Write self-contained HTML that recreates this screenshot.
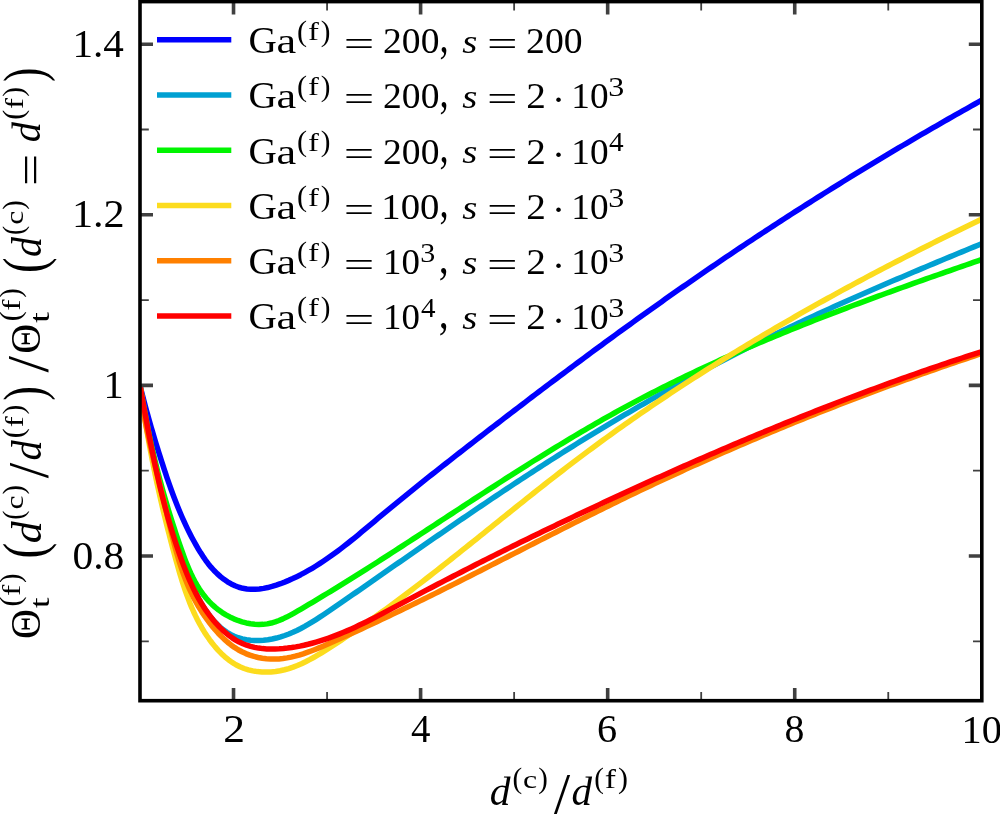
<!DOCTYPE html>
<html><head><meta charset="utf-8"><title>plot</title>
<style>html,body{margin:0;padding:0;background:#fff;overflow:hidden}svg{display:block}
text{font-family:"Liberation Serif","DejaVu Serif",serif;fill:#000}
text.i{font-style:italic}</style></head><body>
<svg width="1000" height="814" viewBox="0 0 1000 814">
<rect width="1000" height="814" fill="#fff"/>
<defs><clipPath id="ax"><rect x="140" y="1.6" width="841.8" height="699.1"/></clipPath></defs>
<g clip-path="url(#ax)" fill="none" stroke-width="5.5" stroke-linejoin="round" stroke-linecap="butt">
<path stroke="#0000ff" d="M140.01 385.4 L141.04 389.6 L142.1 393.81 L143.17 398.01 L144.27 402.22 L145.38 406.43 L146.52 410.64 L147.67 414.84 L148.84 419.05 L150.04 423.25 L151.24 427.44 L152.47 431.64 L153.71 435.82 L154.96 440.01 L156.23 444.18 L157.52 448.35 L158.82 452.51 L160.13 456.66 L161.45 460.8 L162.78 464.93 L164.13 469.05 L165.49 473.16 L166.86 477.26 L168.26 481.34 L169.68 485.41 L171.12 489.47 L172.6 493.52 L174.1 497.55 L175.65 501.58 L177.23 505.59 L178.86 509.58 L180.53 513.56 L182.25 517.53 L184.03 521.49 L185.85 525.43 L187.74 529.35 L189.69 533.27 L191.71 537.16 L193.8 541.04 L195.95 544.91 L198.19 548.76 L200.51 552.59 L202.93 556.36 L205.47 560.06 L208.16 563.66 L211 567.15 L214.01 570.49 L217.17 573.65 L220.48 576.61 L223.94 579.34 L227.51 581.79 L231.2 583.95 L235 585.77 L238.89 587.24 L242.87 588.31 L246.91 589 L251.02 589.33 L255.17 589.32 L259.36 589 L263.58 588.4 L267.81 587.54 L272.03 586.46 L276.25 585.18 L280.44 583.72 L284.6 582.11 L288.71 580.38 L292.77 578.56 L296.76 576.65 L300.7 574.67 L304.58 572.6 L308.41 570.47 L312.19 568.26 L315.92 565.99 L319.61 563.66 L323.25 561.27 L326.86 558.82 L330.43 556.33 L333.97 553.79 L337.48 551.21 L340.95 548.58 L344.41 545.92 L347.84 543.23 L351.25 540.52 L354.64 537.78 L358.01 535.01 L361.38 532.23 L364.73 529.44 L368.08 526.64 L371.42 523.84 L374.76 521.03 L378.11 518.22 L381.45 515.42 L384.8 512.63 L388.16 509.85 L391.52 507.07 L394.89 504.3 L398.26 501.54 L401.63 498.79 L405.01 496.04 L408.39 493.29 L411.78 490.56 L415.17 487.83 L418.56 485.1 L421.96 482.38 L425.36 479.67 L428.77 476.96 L432.17 474.25 L435.59 471.55 L439 468.86 L442.42 466.16 L445.84 463.48 L449.26 460.79 L452.69 458.11 L456.11 455.43 L459.54 452.76 L462.98 450.09 L466.41 447.42 L469.85 444.75 L473.28 442.09 L476.72 439.42 L480.17 436.76 L483.61 434.1 L487.05 431.44 L490.5 428.79 L493.95 426.13 L497.39 423.48 L500.85 420.83 L504.3 418.18 L507.75 415.53 L511.21 412.88 L514.66 410.24 L518.12 407.6 L521.58 404.96 L525.04 402.32 L528.51 399.68 L531.97 397.05 L535.44 394.42 L538.91 391.79 L542.38 389.16 L545.86 386.54 L549.33 383.92 L552.81 381.3 L556.29 378.68 L559.77 376.07 L563.25 373.45 L566.74 370.85 L570.23 368.24 L573.72 365.64 L577.21 363.04 L580.7 360.44 L584.2 357.84 L587.7 355.25 L591.2 352.66 L594.7 350.08 L598.21 347.5 L601.72 344.92 L605.23 342.34 L608.74 339.77 L612.25 337.2 L615.77 334.64 L619.29 332.07 L622.81 329.52 L626.34 326.96 L629.87 324.41 L633.4 321.86 L636.93 319.32 L640.47 316.78 L644.01 314.24 L647.55 311.71 L651.09 309.19 L654.64 306.66 L658.19 304.14 L661.74 301.63 L665.29 299.11 L668.85 296.61 L672.41 294.1 L675.98 291.61 L679.54 289.11 L683.11 286.62 L686.69 284.14 L690.26 281.65 L693.84 279.18 L697.42 276.71 L701.01 274.24 L704.59 271.78 L708.18 269.32 L711.78 266.86 L715.37 264.41 L718.97 261.97 L722.58 259.53 L726.18 257.09 L729.79 254.66 L733.4 252.23 L737.02 249.81 L740.63 247.39 L744.25 244.98 L747.88 242.57 L751.5 240.17 L755.13 237.77 L758.77 235.37 L762.4 232.98 L766.04 230.59 L769.68 228.21 L773.32 225.83 L776.97 223.46 L780.62 221.09 L784.27 218.73 L787.93 216.37 L791.59 214.01 L795.25 211.66 L798.91 209.32 L802.58 206.98 L806.25 204.64 L809.92 202.31 L813.6 199.98 L817.28 197.66 L820.96 195.34 L824.65 193.03 L828.33 190.72 L832.03 188.41 L835.72 186.11 L839.42 183.82 L843.12 181.53 L846.82 179.24 L850.52 176.96 L854.23 174.68 L857.94 172.41 L861.66 170.14 L865.37 167.88 L869.09 165.62 L872.81 163.37 L876.54 161.12 L880.27 158.87 L884 156.63 L887.73 154.4 L891.47 152.17 L895.21 149.94 L898.95 147.72 L902.7 145.5 L906.45 143.29 L910.2 141.08 L913.95 138.88 L917.71 136.68 L921.47 134.49 L925.23 132.3 L929 130.11 L932.77 127.93 L936.54 125.76 L940.31 123.59 L944.09 121.42 L947.87 119.26 L951.65 117.11 L955.44 114.95 L959.23 112.81 L963.02 110.67 L966.81 108.53 L970.61 106.4 L974.41 104.27 L978.21 102.14 L982.02 100.03"/>
<path stroke="#00a0d2" d="M139.99 385.4 L140.8 389.7 L141.6 394 L142.4 398.3 L143.2 402.59 L143.99 406.89 L144.78 411.19 L145.58 415.48 L146.37 419.78 L147.17 424.07 L147.97 428.36 L148.78 432.64 L149.59 436.93 L150.41 441.21 L151.24 445.48 L152.08 449.76 L152.93 454.03 L153.79 458.29 L154.67 462.55 L155.56 466.81 L156.46 471.06 L157.39 475.31 L158.33 479.55 L159.29 483.79 L160.27 488.02 L161.27 492.24 L162.3 496.46 L163.35 500.67 L164.42 504.88 L165.53 509.08 L166.65 513.27 L167.81 517.45 L169 521.63 L170.22 525.79 L171.47 529.95 L172.75 534.1 L174.07 538.24 L175.43 542.38 L176.82 546.5 L178.25 550.61 L179.72 554.72 L181.22 558.81 L182.78 562.9 L184.37 566.97 L186.01 571.03 L187.69 575.08 L189.42 579.12 L191.2 583.15 L193.02 587.17 L194.91 591.16 L196.88 595.11 L198.94 599.02 L201.09 602.86 L203.36 606.64 L205.76 610.33 L208.3 613.93 L210.99 617.42 L213.85 620.79 L216.86 624 L220.04 627.01 L223.38 629.78 L226.87 632.27 L230.51 634.45 L234.3 636.28 L238.23 637.76 L242.26 638.92 L246.4 639.77 L250.61 640.31 L254.88 640.57 L259.18 640.55 L263.51 640.28 L267.84 639.76 L272.15 639.01 L276.42 638.04 L280.64 636.87 L284.79 635.51 L288.88 633.97 L292.91 632.27 L296.88 630.43 L300.8 628.46 L304.67 626.37 L308.49 624.18 L312.28 621.9 L316.03 619.55 L319.75 617.15 L323.45 614.7 L327.12 612.23 L330.77 609.75 L334.41 607.26 L338.03 604.78 L341.65 602.3 L345.25 599.82 L348.84 597.34 L352.42 594.86 L356 592.38 L359.57 589.9 L363.13 587.42 L366.69 584.94 L370.25 582.46 L373.81 579.99 L377.36 577.51 L380.92 575.03 L384.47 572.55 L388.03 570.07 L391.59 567.58 L395.16 565.1 L398.72 562.62 L402.29 560.14 L405.85 557.66 L409.42 555.18 L412.99 552.7 L416.57 550.22 L420.14 547.74 L423.72 545.26 L427.3 542.79 L430.88 540.31 L434.46 537.84 L438.04 535.37 L441.63 532.9 L445.22 530.43 L448.81 527.96 L452.4 525.5 L456 523.03 L459.6 520.57 L463.2 518.12 L466.8 515.66 L470.41 513.21 L474.02 510.76 L477.63 508.32 L481.25 505.87 L484.86 503.44 L488.48 501 L492.11 498.57 L495.73 496.14 L499.36 493.72 L502.99 491.3 L506.63 488.88 L510.27 486.47 L513.91 484.07 L517.55 481.67 L521.2 479.27 L524.85 476.88 L528.5 474.49 L532.16 472.11 L535.82 469.74 L539.49 467.37 L543.15 465 L546.83 462.64 L550.5 460.29 L554.18 457.95 L557.86 455.61 L561.55 453.27 L565.24 450.95 L568.93 448.63 L572.63 446.32 L576.33 444.01 L580.04 441.71 L583.75 439.42 L587.46 437.14 L591.18 434.86 L594.9 432.59 L598.63 430.33 L602.36 428.08 L606.09 425.83 L609.83 423.59 L613.58 421.36 L617.32 419.13 L621.07 416.92 L624.83 414.71 L628.59 412.51 L632.35 410.31 L636.12 408.12 L639.89 405.94 L643.66 403.77 L647.44 401.61 L651.23 399.45 L655.01 397.3 L658.81 395.16 L662.6 393.03 L666.4 390.9 L670.2 388.78 L674.01 386.67 L677.82 384.57 L681.64 382.48 L685.46 380.39 L689.28 378.31 L693.11 376.24 L696.95 374.17 L700.78 372.12 L704.62 370.07 L708.47 368.03 L712.32 365.99 L716.17 363.97 L720.03 361.95 L723.89 359.94 L727.75 357.94 L731.62 355.95 L735.5 353.96 L739.37 351.98 L743.26 350.01 L747.14 348.05 L751.03 346.1 L754.93 344.15 L758.82 342.22 L762.73 340.29 L766.63 338.36 L770.54 336.45 L774.46 334.54 L778.38 332.65 L782.3 330.76 L786.23 328.88 L790.16 327 L794.1 325.14 L798.03 323.28 L801.98 321.43 L805.92 319.59 L809.87 317.75 L813.83 315.92 L817.79 314.1 L821.75 312.28 L825.71 310.47 L829.68 308.67 L833.65 306.87 L837.62 305.08 L841.6 303.3 L845.58 301.52 L849.56 299.75 L853.54 297.98 L857.53 296.22 L861.52 294.47 L865.51 292.71 L869.51 290.97 L873.5 289.23 L877.5 287.49 L881.5 285.76 L885.51 284.03 L889.51 282.31 L893.52 280.59 L897.53 278.87 L901.54 277.16 L905.55 275.46 L909.57 273.75 L913.59 272.05 L917.6 270.35 L921.62 268.66 L925.64 266.97 L929.66 265.28 L933.68 263.59 L937.71 261.91 L941.73 260.23 L945.76 258.55 L949.78 256.87 L953.81 255.2 L957.84 253.53 L961.87 251.86 L965.89 250.19 L969.92 248.52 L973.95 246.85 L977.98 245.19 L982.01 243.52"/>
<path stroke="#00f500" d="M140 385.4 L140.68 389.64 L141.39 393.87 L142.1 398.08 L142.84 402.29 L143.59 406.49 L144.36 410.68 L145.14 414.86 L145.94 419.03 L146.76 423.19 L147.6 427.34 L148.46 431.49 L149.33 435.62 L150.22 439.75 L151.13 443.88 L152.05 447.99 L153 452.1 L153.96 456.21 L154.94 460.31 L155.94 464.4 L156.96 468.49 L158 472.58 L159.05 476.66 L160.13 480.73 L161.23 484.81 L162.34 488.88 L163.47 492.94 L164.63 497.01 L165.8 501.07 L167 505.13 L168.21 509.19 L169.45 513.24 L170.7 517.3 L171.98 521.35 L173.27 525.41 L174.59 529.46 L175.93 533.52 L177.29 537.57 L178.67 541.63 L180.07 545.69 L181.49 549.75 L182.94 553.8 L184.44 557.84 L185.98 561.86 L187.58 565.84 L189.26 569.77 L191.01 573.66 L192.86 577.48 L194.81 581.23 L196.87 584.89 L199.06 588.46 L201.38 591.93 L203.84 595.29 L206.46 598.53 L209.24 601.64 L212.2 604.6 L215.35 607.42 L218.69 610.08 L222.23 612.56 L225.94 614.86 L229.8 616.95 L233.79 618.83 L237.88 620.46 L242.05 621.85 L246.26 622.96 L250.5 623.78 L254.75 624.3 L258.96 624.51 L263.13 624.37 L267.23 623.88 L271.25 623.05 L275.19 621.91 L279.06 620.51 L282.88 618.88 L286.65 617.07 L290.38 615.12 L294.09 613.06 L297.78 610.93 L301.46 608.79 L305.13 606.63 L308.79 604.46 L312.45 602.29 L316.11 600.11 L319.76 597.92 L323.4 595.72 L327.04 593.51 L330.68 591.3 L334.31 589.08 L337.93 586.85 L341.55 584.62 L345.17 582.38 L348.78 580.13 L352.39 577.88 L355.99 575.62 L359.59 573.36 L363.19 571.09 L366.78 568.82 L370.37 566.54 L373.95 564.26 L377.54 561.97 L381.12 559.68 L384.69 557.38 L388.27 555.08 L391.84 552.78 L395.41 550.47 L398.98 548.17 L402.54 545.85 L406.11 543.54 L409.67 541.22 L413.23 538.91 L416.79 536.59 L420.34 534.27 L423.9 531.94 L427.45 529.62 L431.01 527.29 L434.56 524.97 L438.11 522.64 L441.66 520.32 L445.22 517.99 L448.77 515.67 L452.32 513.34 L455.87 511.02 L459.42 508.69 L462.97 506.37 L466.52 504.05 L470.08 501.73 L473.63 499.41 L477.19 497.1 L480.74 494.79 L484.3 492.48 L487.86 490.17 L491.42 487.87 L494.98 485.57 L498.54 483.27 L502.11 480.97 L505.67 478.69 L509.24 476.4 L512.82 474.12 L516.39 471.84 L519.97 469.57 L523.55 467.31 L527.13 465.05 L530.72 462.79 L534.31 460.54 L537.9 458.3 L541.49 456.06 L545.09 453.83 L548.7 451.61 L552.3 449.39 L555.92 447.18 L559.53 444.98 L563.15 442.79 L566.78 440.6 L570.41 438.42 L574.04 436.25 L577.68 434.09 L581.32 431.94 L584.97 429.8 L588.63 427.66 L592.29 425.54 L595.95 423.42 L599.63 421.32 L603.3 419.23 L606.99 417.14 L610.68 415.07 L614.38 413.01 L618.08 410.96 L621.79 408.92 L625.5 406.89 L629.23 404.87 L632.96 402.87 L636.7 400.88 L640.44 398.9 L644.19 396.93 L647.95 394.97 L651.72 393.03 L655.49 391.1 L659.27 389.17 L663.05 387.26 L666.84 385.36 L670.64 383.47 L674.44 381.6 L678.25 379.73 L682.06 377.87 L685.88 376.03 L689.71 374.19 L693.54 372.37 L697.38 370.55 L701.22 368.75 L705.07 366.95 L708.92 365.17 L712.78 363.39 L716.65 361.63 L720.51 359.87 L724.39 358.13 L728.27 356.39 L732.15 354.66 L736.04 352.94 L739.93 351.23 L743.82 349.53 L747.72 347.84 L751.63 346.16 L755.54 344.48 L759.45 342.81 L763.37 341.16 L767.29 339.51 L771.21 337.86 L775.14 336.23 L779.07 334.6 L783 332.99 L786.94 331.38 L790.88 329.77 L794.83 328.18 L798.77 326.59 L802.72 325.01 L806.68 323.43 L810.63 321.87 L814.59 320.31 L818.55 318.75 L822.51 317.2 L826.48 315.66 L830.45 314.13 L834.42 312.6 L838.39 311.08 L842.36 309.57 L846.34 308.06 L850.32 306.55 L854.3 305.05 L858.28 303.56 L862.26 302.08 L866.25 300.59 L870.23 299.12 L874.22 297.65 L878.2 296.18 L882.19 294.72 L886.18 293.26 L890.17 291.81 L894.16 290.36 L898.16 288.92 L902.15 287.48 L906.14 286.05 L910.13 284.62 L914.13 283.2 L918.12 281.77 L922.12 280.36 L926.11 278.94 L930.1 277.53 L934.1 276.12 L938.09 274.72 L942.08 273.32 L946.07 271.92 L950.06 270.53 L954.05 269.14 L958.04 267.75 L962.03 266.36 L966.02 264.98 L970.01 263.6 L973.99 262.22 L977.98 260.84 L981.96 259.47"/>
<path stroke="#fcdc1e" d="M140 385.4 L140.61 389.96 L141.24 394.51 L141.89 399.06 L142.55 403.6 L143.23 408.14 L143.93 412.67 L144.65 417.2 L145.38 421.72 L146.13 426.24 L146.89 430.75 L147.67 435.26 L148.47 439.76 L149.28 444.26 L150.11 448.75 L150.96 453.24 L151.82 457.73 L152.7 462.21 L153.6 466.68 L154.51 471.16 L155.44 475.62 L156.38 480.09 L157.34 484.55 L158.31 489.01 L159.3 493.46 L160.3 497.91 L161.33 502.36 L162.36 506.81 L163.41 511.25 L164.48 515.68 L165.56 520.12 L166.66 524.55 L167.77 528.98 L168.9 533.41 L170.04 537.83 L171.19 542.26 L172.36 546.68 L173.55 551.09 L174.75 555.51 L175.97 559.92 L177.2 564.33 L178.45 568.74 L179.72 573.14 L181.04 577.52 L182.39 581.89 L183.79 586.24 L185.25 590.57 L186.77 594.88 L188.36 599.15 L190.02 603.39 L191.76 607.6 L193.59 611.76 L195.52 615.88 L197.55 619.96 L199.69 623.99 L201.94 627.96 L204.32 631.88 L206.83 635.73 L209.47 639.53 L212.25 643.25 L215.18 646.87 L218.26 650.36 L221.49 653.69 L224.86 656.83 L228.4 659.74 L232.09 662.39 L235.93 664.76 L239.94 666.8 L244.11 668.5 L248.41 669.86 L252.82 670.89 L257.32 671.6 L261.87 672 L266.45 672.1 L271.03 671.92 L275.58 671.46 L280.08 670.74 L284.5 669.76 L288.85 668.55 L293.12 667.13 L297.33 665.51 L301.48 663.71 L305.58 661.76 L309.62 659.68 L313.63 657.47 L317.6 655.17 L321.53 652.79 L325.44 650.36 L329.33 647.88 L333.21 645.38 L337.07 642.87 L340.92 640.34 L344.75 637.8 L348.58 635.24 L352.38 632.66 L356.18 630.07 L359.97 627.46 L363.74 624.84 L367.5 622.21 L371.25 619.57 L374.99 616.91 L378.72 614.23 L382.44 611.55 L386.15 608.85 L389.85 606.15 L393.54 603.43 L397.23 600.7 L400.9 597.96 L404.57 595.21 L408.22 592.45 L411.87 589.69 L415.52 586.91 L419.15 584.13 L422.78 581.34 L426.41 578.54 L430.02 575.73 L433.64 572.92 L437.24 570.1 L440.84 567.27 L444.44 564.44 L448.03 561.61 L451.62 558.76 L455.21 555.92 L458.79 553.07 L462.37 550.22 L465.94 547.36 L469.51 544.5 L473.08 541.64 L476.65 538.78 L480.22 535.91 L483.78 533.05 L487.35 530.18 L490.91 527.32 L494.48 524.45 L498.04 521.58 L501.61 518.71 L505.17 515.85 L508.74 512.99 L512.3 510.12 L515.87 507.26 L519.44 504.41 L523.02 501.55 L526.59 498.7 L530.17 495.86 L533.75 493.01 L537.33 490.18 L540.92 487.34 L544.52 484.52 L548.11 481.69 L551.72 478.88 L555.32 476.07 L558.93 473.27 L562.55 470.47 L566.18 467.69 L569.81 464.91 L573.44 462.14 L577.09 459.37 L580.74 456.62 L584.4 453.88 L588.06 451.15 L591.74 448.42 L595.42 445.71 L599.1 443 L602.8 440.31 L606.5 437.62 L610.21 434.94 L613.93 432.27 L617.65 429.61 L621.38 426.96 L625.11 424.32 L628.86 421.69 L632.61 419.07 L636.36 416.45 L640.13 413.85 L643.9 411.25 L647.67 408.66 L651.45 406.08 L655.24 403.51 L659.04 400.95 L662.84 398.4 L666.65 395.85 L670.46 393.32 L674.28 390.79 L678.1 388.27 L681.94 385.76 L685.77 383.26 L689.62 380.77 L693.46 378.28 L697.32 375.81 L701.18 373.34 L705.04 370.88 L708.92 368.43 L712.79 365.98 L716.67 363.55 L720.56 361.12 L724.45 358.7 L728.35 356.29 L732.25 353.89 L736.16 351.49 L740.08 349.11 L743.99 346.73 L747.92 344.35 L751.85 341.99 L755.78 339.64 L759.72 337.29 L763.66 334.95 L767.61 332.61 L771.56 330.29 L775.51 327.97 L779.47 325.66 L783.44 323.36 L787.41 321.06 L791.38 318.78 L795.36 316.5 L799.34 314.22 L803.33 311.96 L807.32 309.7 L811.31 307.45 L815.31 305.21 L819.32 302.97 L823.32 300.74 L827.33 298.52 L831.35 296.3 L835.36 294.1 L839.38 291.9 L843.41 289.7 L847.44 287.51 L851.47 285.33 L855.51 283.16 L859.54 280.99 L863.59 278.83 L867.63 276.68 L871.68 274.53 L875.73 272.39 L879.78 270.26 L883.84 268.13 L887.9 266.01 L891.97 263.9 L896.03 261.79 L900.1 259.69 L904.17 257.6 L908.25 255.51 L912.32 253.43 L916.4 251.35 L920.48 249.29 L924.57 247.22 L928.65 245.17 L932.74 243.12 L936.83 241.07 L940.93 239.03 L945.02 237 L949.12 234.97 L953.22 232.95 L957.32 230.94 L961.43 228.93 L965.53 226.93 L969.64 224.93 L973.75 222.94 L977.86 220.95 L981.97 218.97"/>
<path stroke="#ff8000" d="M140 385.4 L140.44 389.67 L140.94 393.92 L141.48 398.16 L142.06 402.38 L142.69 406.6 L143.37 410.79 L144.08 414.98 L144.82 419.16 L145.6 423.33 L146.42 427.48 L147.26 431.63 L148.13 435.78 L149.03 439.91 L149.95 444.04 L150.89 448.17 L151.85 452.29 L152.83 456.4 L153.82 460.52 L154.82 464.63 L155.84 468.74 L156.86 472.85 L157.88 476.96 L158.91 481.07 L159.94 485.18 L160.97 489.3 L161.99 493.42 L163.01 497.54 L164.02 501.67 L165.02 505.81 L166 509.95 L166.98 514.1 L167.96 518.25 L168.94 522.4 L169.92 526.54 L170.91 530.69 L171.92 534.83 L172.95 538.95 L174.01 543.07 L175.09 547.18 L176.21 551.27 L177.37 555.34 L178.57 559.4 L179.82 563.43 L181.13 567.44 L182.49 571.43 L183.92 575.38 L185.41 579.31 L186.98 583.2 L188.62 587.06 L190.35 590.88 L192.16 594.67 L194.05 598.41 L196.04 602.12 L198.11 605.78 L200.28 609.39 L202.54 612.96 L204.91 616.48 L207.37 619.95 L209.93 623.36 L212.6 626.73 L215.38 630.03 L218.27 633.26 L221.28 636.38 L224.4 639.39 L227.64 642.25 L231.02 644.94 L234.52 647.44 L238.16 649.72 L241.94 651.78 L245.85 653.58 L249.86 655.13 L253.96 656.43 L258.11 657.48 L262.28 658.27 L266.47 658.8 L270.63 659.08 L274.77 659.11 L278.89 658.92 L282.98 658.5 L287.05 657.9 L291.1 657.1 L295.13 656.15 L299.15 655.04 L303.15 653.8 L307.13 652.45 L311.1 650.99 L315.06 649.45 L319 647.84 L322.94 646.17 L326.87 644.47 L330.79 642.75 L334.71 641.01 L338.62 639.27 L342.53 637.52 L346.43 635.77 L350.32 634 L354.21 632.23 L358.1 630.45 L361.97 628.67 L365.85 626.87 L369.72 625.07 L373.58 623.27 L377.44 621.45 L381.3 619.63 L385.15 617.81 L389 615.98 L392.84 614.14 L396.68 612.3 L400.52 610.45 L404.35 608.59 L408.18 606.73 L412 604.87 L415.82 603 L419.64 601.13 L423.45 599.25 L427.27 597.37 L431.07 595.49 L434.88 593.6 L438.68 591.7 L442.48 589.81 L446.28 587.91 L450.08 586.01 L453.87 584.1 L457.66 582.19 L461.45 580.28 L465.24 578.37 L469.03 576.45 L472.81 574.54 L476.59 572.62 L480.38 570.7 L484.16 568.77 L487.93 566.85 L491.71 564.92 L495.49 563 L499.27 561.07 L503.04 559.15 L506.82 557.22 L510.59 555.29 L514.36 553.36 L518.14 551.44 L521.91 549.51 L525.68 547.58 L529.46 545.66 L533.23 543.73 L537.01 541.81 L540.78 539.88 L544.56 537.96 L548.33 536.04 L552.11 534.12 L555.89 532.21 L559.66 530.29 L563.44 528.38 L567.22 526.47 L571.01 524.56 L574.79 522.66 L578.58 520.76 L582.36 518.86 L586.15 516.96 L589.94 515.07 L593.74 513.19 L597.53 511.3 L601.33 509.42 L605.13 507.55 L608.93 505.68 L612.74 503.81 L616.54 501.95 L620.35 500.09 L624.17 498.24 L627.98 496.39 L631.8 494.55 L635.63 492.72 L639.45 490.89 L643.28 489.07 L647.12 487.25 L650.95 485.43 L654.79 483.63 L658.63 481.83 L662.48 480.03 L666.33 478.24 L670.18 476.45 L674.03 474.67 L677.89 472.9 L681.75 471.13 L685.62 469.37 L689.48 467.61 L693.35 465.86 L697.22 464.12 L701.1 462.38 L704.98 460.64 L708.86 458.91 L712.74 457.19 L716.63 455.47 L720.52 453.76 L724.41 452.06 L728.3 450.36 L732.2 448.66 L736.1 446.97 L740 445.29 L743.9 443.61 L747.81 441.94 L751.72 440.27 L755.63 438.61 L759.55 436.96 L763.47 435.31 L767.38 433.66 L771.31 432.02 L775.23 430.39 L779.16 428.77 L783.09 427.14 L787.02 425.53 L790.95 423.92 L794.89 422.31 L798.83 420.72 L802.77 419.12 L806.71 417.54 L810.65 415.96 L814.6 414.38 L818.55 412.81 L822.5 411.25 L826.45 409.69 L830.41 408.14 L834.36 406.59 L838.32 405.05 L842.28 403.51 L846.25 401.98 L850.21 400.46 L854.18 398.94 L858.15 397.43 L862.12 395.92 L866.09 394.42 L870.06 392.93 L874.04 391.44 L878.02 389.95 L882 388.47 L885.98 387 L889.96 385.54 L893.94 384.08 L897.93 382.62 L901.92 381.17 L905.91 379.73 L909.9 378.29 L913.89 376.86 L917.88 375.43 L921.88 374.01 L925.87 372.6 L929.87 371.19 L933.87 369.79 L937.87 368.39 L941.87 367 L945.87 365.62 L949.88 364.24 L953.88 362.86 L957.89 361.49 L961.9 360.13 L965.91 358.78 L969.92 357.43 L973.93 356.08 L977.94 354.74 L981.96 353.41"/>
<path stroke="#ff0000" d="M140 385.39 L140.74 389.56 L141.49 393.72 L142.24 397.88 L142.98 402.03 L143.73 406.18 L144.49 410.33 L145.24 414.47 L146 418.61 L146.77 422.75 L147.54 426.88 L148.32 431.01 L149.1 435.13 L149.9 439.25 L150.7 443.37 L151.51 447.48 L152.34 451.59 L153.18 455.69 L154.03 459.79 L154.89 463.88 L155.77 467.97 L156.66 472.05 L157.57 476.13 L158.49 480.21 L159.44 484.28 L160.4 488.35 L161.38 492.41 L162.38 496.47 L163.41 500.52 L164.45 504.57 L165.52 508.61 L166.61 512.64 L167.72 516.68 L168.86 520.7 L170.03 524.72 L171.22 528.74 L172.44 532.75 L173.69 536.76 L174.97 540.76 L176.28 544.75 L177.62 548.74 L178.99 552.73 L180.39 556.7 L181.83 560.68 L183.3 564.64 L184.82 568.6 L186.38 572.54 L187.99 576.46 L189.66 580.36 L191.4 584.23 L193.2 588.06 L195.08 591.86 L197.05 595.62 L199.1 599.34 L201.24 603 L203.48 606.62 L205.83 610.17 L208.29 613.66 L210.86 617.09 L213.56 620.44 L216.37 623.7 L219.3 626.85 L222.35 629.85 L225.52 632.7 L228.79 635.37 L232.17 637.83 L235.66 640.06 L239.26 642.05 L242.95 643.76 L246.74 645.21 L250.62 646.41 L254.56 647.36 L258.57 648.09 L262.64 648.61 L266.74 648.93 L270.88 649.07 L275.04 649.04 L279.21 648.86 L283.38 648.53 L287.54 648.08 L291.69 647.52 L295.81 646.85 L299.9 646.09 L303.97 645.23 L308.02 644.28 L312.05 643.24 L316.06 642.12 L320.04 640.92 L324.01 639.65 L327.96 638.3 L331.89 636.88 L335.81 635.4 L339.71 633.86 L343.59 632.26 L347.46 630.6 L351.31 628.9 L355.16 627.15 L358.99 625.35 L362.81 623.52 L366.62 621.66 L370.42 619.76 L374.21 617.83 L377.99 615.88 L381.77 613.91 L385.54 611.93 L389.31 609.93 L393.07 607.92 L396.83 605.91 L400.58 603.89 L404.34 601.88 L408.09 599.88 L411.84 597.88 L415.59 595.88 L419.34 593.9 L423.08 591.92 L426.83 589.94 L430.58 587.97 L434.32 586.01 L438.07 584.05 L441.82 582.1 L445.56 580.16 L449.3 578.22 L453.05 576.28 L456.79 574.36 L460.54 572.43 L464.28 570.52 L468.03 568.6 L471.77 566.7 L475.52 564.8 L479.26 562.9 L483.01 561.01 L486.75 559.12 L490.5 557.24 L494.25 555.36 L498 553.49 L501.75 551.62 L505.5 549.76 L509.25 547.9 L513 546.04 L516.75 544.19 L520.51 542.34 L524.26 540.5 L528.02 538.66 L531.78 536.83 L535.54 535 L539.3 533.17 L543.06 531.35 L546.83 529.53 L550.59 527.71 L554.36 525.9 L558.13 524.09 L561.9 522.28 L565.68 520.48 L569.46 518.68 L573.23 516.88 L577.02 515.08 L580.8 513.29 L584.59 511.5 L588.37 509.72 L592.17 507.94 L595.96 506.16 L599.75 504.38 L603.55 502.6 L607.35 500.83 L611.16 499.07 L614.96 497.3 L618.77 495.54 L622.58 493.78 L626.39 492.03 L630.21 490.28 L634.02 488.53 L637.84 486.78 L641.67 485.04 L645.49 483.3 L649.32 481.57 L653.15 479.84 L656.98 478.11 L660.81 476.39 L664.65 474.67 L668.48 472.95 L672.32 471.24 L676.17 469.53 L680.01 467.83 L683.86 466.13 L687.71 464.43 L691.56 462.74 L695.41 461.05 L699.27 459.36 L703.12 457.68 L706.98 456.01 L710.85 454.33 L714.71 452.67 L718.58 451 L722.44 449.34 L726.31 447.69 L730.19 446.04 L734.06 444.39 L737.94 442.75 L741.82 441.11 L745.7 439.48 L749.58 437.85 L753.47 436.23 L757.35 434.61 L761.24 433 L765.13 431.39 L769.03 429.79 L772.92 428.19 L776.82 426.59 L780.72 425 L784.62 423.42 L788.52 421.84 L792.43 420.27 L796.33 418.7 L800.24 417.13 L804.15 415.58 L808.07 414.02 L811.98 412.47 L815.9 410.93 L819.81 409.4 L823.73 407.86 L827.66 406.34 L831.58 404.82 L835.51 403.3 L839.43 401.79 L843.36 400.29 L847.29 398.79 L851.23 397.3 L855.16 395.81 L859.1 394.33 L863.04 392.86 L866.98 391.39 L870.92 389.92 L874.86 388.47 L878.81 387.02 L882.76 385.57 L886.7 384.13 L890.65 382.7 L894.61 381.27 L898.56 379.85 L902.52 378.44 L906.47 377.03 L910.43 375.63 L914.39 374.24 L918.36 372.85 L922.32 371.47 L926.29 370.09 L930.25 368.72 L934.22 367.36 L938.19 366 L942.16 364.66 L946.14 363.31 L950.11 361.98 L954.09 360.65 L958.07 359.33 L962.05 358.01 L966.03 356.71 L970.01 355.41 L974 354.11 L977.98 352.83 L981.97 351.55"/>
</g>
<path stroke="#404040" stroke-width="3.6" fill="none" d="M233.53 700.7V687.9M233.53 1.6V14.6M420.6 700.7V687.9M420.6 1.6V14.6M607.67 700.7V687.9M607.67 1.6V14.6M794.73 700.7V687.9M794.73 1.6V14.6M140 44.2H153M981.8 44.2H968.8M140 214.8H153M981.8 214.8H968.8M140 385.4H153M981.8 385.4H968.8M140 556H153M981.8 556H968.8"/>
<path stroke="#404040" stroke-width="1.8" fill="none" d="M327.07 700.7V691.9M327.07 1.6V10.4M514.13 700.7V691.9M514.13 1.6V10.4M701.2 700.7V691.9M701.2 1.6V10.4M888.27 700.7V691.9M888.27 1.6V10.4M140 129.5H148.8M981.8 129.5H973M140 300.1H148.8M981.8 300.1H973M140 470.7H148.8M981.8 470.7H973M140 641.3H148.8M981.8 641.3H973"/>
<rect x="140" y="1.6" width="841.8" height="699.1" fill="none" stroke="#000" stroke-width="3.6"/>
<g>
<text x="72.4" y="56.6" font-size="40" textLength="51.42" lengthAdjust="spacingAndGlyphs">1.4</text>
<text x="71.9" y="227.4" font-size="39.85" textLength="52.82" lengthAdjust="spacingAndGlyphs">1.2</text>
<text x="103.48" y="398.2" font-size="40" textLength="20.14" lengthAdjust="spacingAndGlyphs">1</text>
<text x="72.44" y="569" font-size="40.29" textLength="51.91" lengthAdjust="spacingAndGlyphs">0.8</text>
<text x="223.15" y="742.4" font-size="39.09" textLength="21.74" lengthAdjust="spacingAndGlyphs">2</text>
<text x="410.92" y="742.2" font-size="40.46" textLength="19.46" lengthAdjust="spacingAndGlyphs">4</text>
<text x="597.09" y="742.4" font-size="40" textLength="20.12" lengthAdjust="spacingAndGlyphs">6</text>
<text x="784.61" y="742.4" font-size="39.7" textLength="19.88" lengthAdjust="spacingAndGlyphs">8</text>
<text x="961.47" y="742.6" font-size="40.3" textLength="40.34" lengthAdjust="spacingAndGlyphs">10</text>
</g>
<g>
<path stroke="#0000ff" stroke-width="5.6" d="M157 39.75H231.3"/>
<text x="248.43" y="53.12" font-size="37.92" textLength="28.33" lengthAdjust="spacingAndGlyphs">G</text>
<text x="276.45" y="53.15" font-size="34.79" textLength="19.67" lengthAdjust="spacingAndGlyphs">a</text>
<text x="297.01" y="40.62" font-size="29.53" textLength="10.09" lengthAdjust="spacingAndGlyphs">(</text>
<text x="308.02" y="40.1" font-size="26.1" textLength="10.9" lengthAdjust="spacingAndGlyphs">f</text>
<text x="320.85" y="40.62" font-size="29.53" textLength="9.7" lengthAdjust="spacingAndGlyphs">)</text>
<text x="343.79" y="55.74" font-size="36.8" textLength="30.56" lengthAdjust="spacingAndGlyphs">=</text>
<text x="383.1" y="53.15" font-size="35.26" textLength="56.3" lengthAdjust="spacingAndGlyphs">200</text>
<text x="439.62" y="51.6" font-size="47.77" textLength="9.17" lengthAdjust="spacingAndGlyphs">,</text>
<text class="i" x="462.21" y="52.96" font-size="33.54" textLength="15.12" lengthAdjust="spacingAndGlyphs">s</text>
<text x="487.09" y="55.74" font-size="36.8" textLength="30.56" lengthAdjust="spacingAndGlyphs">=</text>
<text x="526.1" y="53.15" font-size="35.26" textLength="56.51" lengthAdjust="spacingAndGlyphs">200</text>
<path stroke="#00a0d2" stroke-width="5.6" d="M157 95.01H231.3"/>
<text x="248.43" y="108.38" font-size="37.92" textLength="28.33" lengthAdjust="spacingAndGlyphs">G</text>
<text x="276.45" y="108.41" font-size="34.79" textLength="19.67" lengthAdjust="spacingAndGlyphs">a</text>
<text x="297.01" y="95.88" font-size="29.53" textLength="10.09" lengthAdjust="spacingAndGlyphs">(</text>
<text x="308.02" y="95.36" font-size="26.1" textLength="10.9" lengthAdjust="spacingAndGlyphs">f</text>
<text x="320.85" y="95.88" font-size="29.53" textLength="9.7" lengthAdjust="spacingAndGlyphs">)</text>
<text x="343.79" y="111" font-size="36.8" textLength="30.56" lengthAdjust="spacingAndGlyphs">=</text>
<text x="383.1" y="108.41" font-size="35.26" textLength="56.3" lengthAdjust="spacingAndGlyphs">200</text>
<text x="439.62" y="106.86" font-size="47.77" textLength="9.17" lengthAdjust="spacingAndGlyphs">,</text>
<text class="i" x="462.21" y="108.22" font-size="33.54" textLength="15.12" lengthAdjust="spacingAndGlyphs">s</text>
<text x="487.09" y="111" font-size="36.8" textLength="30.56" lengthAdjust="spacingAndGlyphs">=</text>
<text x="526.23" y="108.26" font-size="35.77" textLength="19.63" lengthAdjust="spacingAndGlyphs">2</text>
<text x="552.09" y="111.86" font-size="37.45" textLength="13.04" lengthAdjust="spacingAndGlyphs">·</text>
<text x="571.34" y="108.4" font-size="35.85" textLength="37.26" lengthAdjust="spacingAndGlyphs">10</text>
<text x="608.18" y="96.39" font-size="26.91" textLength="16" lengthAdjust="spacingAndGlyphs">3</text>
<path stroke="#00f500" stroke-width="5.6" d="M157 150.27H231.3"/>
<text x="248.43" y="163.64" font-size="37.92" textLength="28.33" lengthAdjust="spacingAndGlyphs">G</text>
<text x="276.45" y="163.67" font-size="34.79" textLength="19.67" lengthAdjust="spacingAndGlyphs">a</text>
<text x="297.01" y="151.14" font-size="29.53" textLength="10.09" lengthAdjust="spacingAndGlyphs">(</text>
<text x="308.02" y="150.62" font-size="26.1" textLength="10.9" lengthAdjust="spacingAndGlyphs">f</text>
<text x="320.85" y="151.14" font-size="29.53" textLength="9.7" lengthAdjust="spacingAndGlyphs">)</text>
<text x="343.79" y="166.26" font-size="36.8" textLength="30.56" lengthAdjust="spacingAndGlyphs">=</text>
<text x="383.1" y="163.67" font-size="35.26" textLength="56.3" lengthAdjust="spacingAndGlyphs">200</text>
<text x="439.62" y="162.12" font-size="47.77" textLength="9.17" lengthAdjust="spacingAndGlyphs">,</text>
<text class="i" x="462.21" y="163.48" font-size="33.54" textLength="15.12" lengthAdjust="spacingAndGlyphs">s</text>
<text x="487.09" y="166.26" font-size="36.8" textLength="30.56" lengthAdjust="spacingAndGlyphs">=</text>
<text x="526.23" y="163.52" font-size="35.77" textLength="19.63" lengthAdjust="spacingAndGlyphs">2</text>
<text x="552.09" y="167.12" font-size="37.45" textLength="13.04" lengthAdjust="spacingAndGlyphs">·</text>
<text x="571.34" y="163.66" font-size="35.85" textLength="37.26" lengthAdjust="spacingAndGlyphs">10</text>
<text x="609.02" y="151.02" font-size="27.38" textLength="14.62" lengthAdjust="spacingAndGlyphs">4</text>
<path stroke="#fcdc1e" stroke-width="5.6" d="M157 205.53H231.3"/>
<text x="248.43" y="218.9" font-size="37.92" textLength="28.33" lengthAdjust="spacingAndGlyphs">G</text>
<text x="276.45" y="218.93" font-size="34.79" textLength="19.67" lengthAdjust="spacingAndGlyphs">a</text>
<text x="297.01" y="206.4" font-size="29.53" textLength="10.09" lengthAdjust="spacingAndGlyphs">(</text>
<text x="308.02" y="205.88" font-size="26.1" textLength="10.9" lengthAdjust="spacingAndGlyphs">f</text>
<text x="320.85" y="206.4" font-size="29.53" textLength="9.7" lengthAdjust="spacingAndGlyphs">)</text>
<text x="343.79" y="221.52" font-size="36.8" textLength="30.56" lengthAdjust="spacingAndGlyphs">=</text>
<text x="381.31" y="218.93" font-size="35.26" textLength="58.15" lengthAdjust="spacingAndGlyphs">100</text>
<text x="439.62" y="217.38" font-size="47.77" textLength="9.17" lengthAdjust="spacingAndGlyphs">,</text>
<text class="i" x="462.21" y="218.74" font-size="33.54" textLength="15.12" lengthAdjust="spacingAndGlyphs">s</text>
<text x="487.09" y="221.52" font-size="36.8" textLength="30.56" lengthAdjust="spacingAndGlyphs">=</text>
<text x="526.23" y="218.78" font-size="35.77" textLength="19.63" lengthAdjust="spacingAndGlyphs">2</text>
<text x="552.09" y="222.38" font-size="37.45" textLength="13.04" lengthAdjust="spacingAndGlyphs">·</text>
<text x="571.34" y="218.92" font-size="35.85" textLength="37.26" lengthAdjust="spacingAndGlyphs">10</text>
<text x="608.18" y="206.91" font-size="26.91" textLength="16" lengthAdjust="spacingAndGlyphs">3</text>
<path stroke="#ff8000" stroke-width="5.6" d="M157 260.79H231.3"/>
<text x="248.43" y="274.16" font-size="37.92" textLength="28.33" lengthAdjust="spacingAndGlyphs">G</text>
<text x="276.45" y="274.19" font-size="34.79" textLength="19.67" lengthAdjust="spacingAndGlyphs">a</text>
<text x="297.01" y="261.66" font-size="29.53" textLength="10.09" lengthAdjust="spacingAndGlyphs">(</text>
<text x="308.02" y="261.14" font-size="26.1" textLength="10.9" lengthAdjust="spacingAndGlyphs">f</text>
<text x="320.85" y="261.66" font-size="29.53" textLength="9.7" lengthAdjust="spacingAndGlyphs">)</text>
<text x="343.79" y="276.78" font-size="36.8" textLength="30.56" lengthAdjust="spacingAndGlyphs">=</text>
<text x="382.97" y="274.18" font-size="35.85" textLength="36.91" lengthAdjust="spacingAndGlyphs">10</text>
<text x="420.37" y="262.37" font-size="26.91" textLength="15.03" lengthAdjust="spacingAndGlyphs">3</text>
<text x="438.7" y="272.64" font-size="47.77" textLength="10" lengthAdjust="spacingAndGlyphs">,</text>
<text class="i" x="462.21" y="274" font-size="33.54" textLength="15.12" lengthAdjust="spacingAndGlyphs">s</text>
<text x="487.09" y="276.78" font-size="36.8" textLength="30.56" lengthAdjust="spacingAndGlyphs">=</text>
<text x="526.23" y="274.04" font-size="35.77" textLength="19.63" lengthAdjust="spacingAndGlyphs">2</text>
<text x="552.09" y="277.64" font-size="37.45" textLength="13.04" lengthAdjust="spacingAndGlyphs">·</text>
<text x="571.34" y="274.18" font-size="35.85" textLength="37.26" lengthAdjust="spacingAndGlyphs">10</text>
<text x="608.18" y="262.17" font-size="26.91" textLength="16" lengthAdjust="spacingAndGlyphs">3</text>
<path stroke="#ff0000" stroke-width="5.6" d="M157 316.05H231.3"/>
<text x="248.43" y="329.42" font-size="37.92" textLength="28.33" lengthAdjust="spacingAndGlyphs">G</text>
<text x="276.45" y="329.45" font-size="34.79" textLength="19.67" lengthAdjust="spacingAndGlyphs">a</text>
<text x="297.01" y="316.92" font-size="29.53" textLength="10.09" lengthAdjust="spacingAndGlyphs">(</text>
<text x="308.02" y="316.4" font-size="26.1" textLength="10.9" lengthAdjust="spacingAndGlyphs">f</text>
<text x="320.85" y="316.92" font-size="29.53" textLength="9.7" lengthAdjust="spacingAndGlyphs">)</text>
<text x="343.79" y="332.04" font-size="36.8" textLength="30.56" lengthAdjust="spacingAndGlyphs">=</text>
<text x="382.97" y="329.44" font-size="35.85" textLength="36.91" lengthAdjust="spacingAndGlyphs">10</text>
<text x="420.92" y="317" font-size="27.38" textLength="14.52" lengthAdjust="spacingAndGlyphs">4</text>
<text x="438.7" y="327.9" font-size="47.77" textLength="10" lengthAdjust="spacingAndGlyphs">,</text>
<text class="i" x="462.21" y="329.26" font-size="33.54" textLength="15.12" lengthAdjust="spacingAndGlyphs">s</text>
<text x="487.09" y="332.04" font-size="36.8" textLength="30.56" lengthAdjust="spacingAndGlyphs">=</text>
<text x="526.23" y="329.3" font-size="35.77" textLength="19.63" lengthAdjust="spacingAndGlyphs">2</text>
<text x="552.09" y="332.9" font-size="37.45" textLength="13.04" lengthAdjust="spacingAndGlyphs">·</text>
<text x="571.34" y="329.44" font-size="35.85" textLength="37.26" lengthAdjust="spacingAndGlyphs">10</text>
<text x="608.18" y="317.43" font-size="26.91" textLength="16" lengthAdjust="spacingAndGlyphs">3</text>
</g>
<g>
<text class="i" x="489.86" y="804.6" font-size="40.14" textLength="20.74" lengthAdjust="spacingAndGlyphs">d</text>
<text x="512.46" y="788.02" font-size="29.09" textLength="9.7" lengthAdjust="spacingAndGlyphs">(</text>
<text x="523.01" y="787.85" font-size="25.21" textLength="14.09" lengthAdjust="spacingAndGlyphs">c</text>
<text x="538.27" y="788.02" font-size="29.09" textLength="9.57" lengthAdjust="spacingAndGlyphs">)</text>
<text x="553.8" y="814.4" font-size="59.85" textLength="16.42" lengthAdjust="spacingAndGlyphs">/</text>
<text class="i" x="571.57" y="804.6" font-size="40.14" textLength="20.53" lengthAdjust="spacingAndGlyphs">d</text>
<text x="594.36" y="788.02" font-size="29.09" textLength="9.7" lengthAdjust="spacingAndGlyphs">(</text>
<text x="604.89" y="787.9" font-size="26.81" textLength="11.23" lengthAdjust="spacingAndGlyphs">f</text>
<text x="617.93" y="788.02" font-size="29.09" textLength="9.96" lengthAdjust="spacingAndGlyphs">)</text>
</g>
<g transform="translate(0 814) rotate(-90)">
<text x="175.04" y="39.68" font-size="41.78" textLength="30.01" lengthAdjust="spacingAndGlyphs">Θ</text>
<text x="205.81" y="48.52" font-size="28" textLength="10.8" lengthAdjust="spacingAndGlyphs">t</text>
<text x="231.07" y="19.52" font-size="29.53" textLength="9.57" lengthAdjust="spacingAndGlyphs">)</text>
<text x="218.09" y="19.8" font-size="26.1" textLength="11.23" lengthAdjust="spacingAndGlyphs">f</text>
<text x="207.51" y="19.52" font-size="29.53" textLength="10.09" lengthAdjust="spacingAndGlyphs">(</text>
<text x="255.5" y="43.5" font-size="58.84" textLength="15.65" lengthAdjust="spacingAndGlyphs">(</text>
<text class="i" x="270.88" y="40.88" font-size="41.56" textLength="22.01" lengthAdjust="spacingAndGlyphs">d</text>
<text x="319.58" y="23.22" font-size="29.09" textLength="9.44" lengthAdjust="spacingAndGlyphs">)</text>
<text x="304.52" y="22.85" font-size="25" textLength="13.97" lengthAdjust="spacingAndGlyphs">c</text>
<text x="294.23" y="23.22" font-size="29.09" textLength="9.18" lengthAdjust="spacingAndGlyphs">(</text>
<text x="335.7" y="48.42" font-size="57.76" textLength="15.52" lengthAdjust="spacingAndGlyphs">/</text>
<text class="i" x="353.39" y="40.88" font-size="41.56" textLength="20.11" lengthAdjust="spacingAndGlyphs">d</text>
<text x="399.55" y="23.09" font-size="29.2" textLength="9.7" lengthAdjust="spacingAndGlyphs">)</text>
<text x="386.72" y="22.8" font-size="26.1" textLength="10.9" lengthAdjust="spacingAndGlyphs">f</text>
<text x="375.71" y="23.09" font-size="29.2" textLength="10.09" lengthAdjust="spacingAndGlyphs">(</text>
<text x="413.27" y="43.13" font-size="57.74" textLength="14.61" lengthAdjust="spacingAndGlyphs">)</text>
<text x="441.4" y="48.42" font-size="58.21" textLength="16.62" lengthAdjust="spacingAndGlyphs">/</text>
<text x="460.34" y="39.68" font-size="41.78" textLength="30.01" lengthAdjust="spacingAndGlyphs">Θ</text>
<text x="490.91" y="48.73" font-size="26.78" textLength="10.9" lengthAdjust="spacingAndGlyphs">t</text>
<text x="516.37" y="19.52" font-size="29.53" textLength="9.57" lengthAdjust="spacingAndGlyphs">)</text>
<text x="503.39" y="19.8" font-size="26.1" textLength="11.23" lengthAdjust="spacingAndGlyphs">f</text>
<text x="492.81" y="19.52" font-size="29.53" textLength="10.09" lengthAdjust="spacingAndGlyphs">(</text>
<text x="541.02" y="43.5" font-size="58.84" textLength="15.52" lengthAdjust="spacingAndGlyphs">(</text>
<text class="i" x="557.1" y="40.88" font-size="41.56" textLength="20" lengthAdjust="spacingAndGlyphs">d</text>
<text x="604.28" y="23.22" font-size="29.09" textLength="9.44" lengthAdjust="spacingAndGlyphs">)</text>
<text x="589.22" y="22.85" font-size="25" textLength="13.97" lengthAdjust="spacingAndGlyphs">c</text>
<text x="578.93" y="23.22" font-size="29.09" textLength="9.18" lengthAdjust="spacingAndGlyphs">(</text>
<text x="628.14" y="44.68" font-size="45.2" textLength="32.26" lengthAdjust="spacingAndGlyphs">=</text>
<text class="i" x="671.79" y="40" font-size="40.28" textLength="20.11" lengthAdjust="spacingAndGlyphs">d</text>
<text x="717.15" y="23.11" font-size="28.65" textLength="9.7" lengthAdjust="spacingAndGlyphs">)</text>
<text x="705.12" y="23.2" font-size="26.1" textLength="10.9" lengthAdjust="spacingAndGlyphs">f</text>
<text x="694.21" y="23.11" font-size="28.65" textLength="10.09" lengthAdjust="spacingAndGlyphs">(</text>
<text x="732" y="42.92" font-size="56.86" textLength="14.35" lengthAdjust="spacingAndGlyphs">)</text>
</g>
</svg></body></html>
